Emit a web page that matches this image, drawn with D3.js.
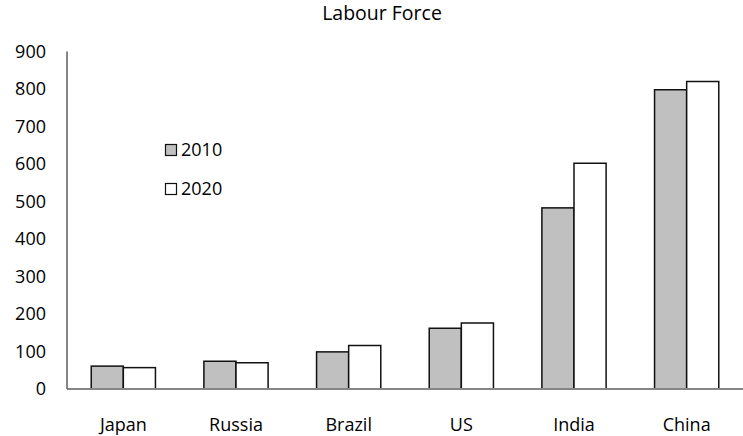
<!DOCTYPE html>
<html><head><meta charset="utf-8">
<script src="https://cdn.jsdelivr.net/npm/d3@7"></script>
<style>body{margin:0;background:#fff}svg{display:block}text{font-family:"Open Sans","Liberation Sans",sans-serif;fill:#000}</style>
</head><body>
<script>
const categories = ["Japan","Russia","Brazil","US","India","China"];
const seriesNames = ["2010","2020"];
const values2010 = [61,74,99,162,483,798];
const values2020 = [57,70,116,176,602,820];
const yTicks = [0,100,200,300,400,500,600,700,800,900];
const title = "Labour Force";

const FONT='"Open Sans","Liberation Sans",sans-serif';
const W=743,H=436;
const svg=d3.select("body").append("svg").attr("width",W).attr("height",H);
const x0=67,x1=743,yTop=51.5,yBase=389;
const x=d3.scaleBand().domain(categories).range([x0,x1]).paddingInner(0.43).paddingOuter(0.215);
const xs=d3.scaleBand().domain(seriesNames).range([0,x.bandwidth()]).padding(0);
const y=d3.scaleLinear().domain([0,900]).range([yBase,yTop]);
const fills={"2010":"#c0c0c0","2020":"#ffffff"};

svg.append("text").attr("x",382).attr("y",20).attr("text-anchor","middle").attr("font-size",19.5).text(title);

// y axis labels
const ya=svg.append("g").attr("transform",`translate(${x0},0)`)
 .call(d3.axisLeft(y).tickValues(yTicks).tickSize(0).tickPadding(21));
ya.select(".domain").remove();
ya.selectAll("text").attr("font-size",18).attr("font-family",FONT).attr("fill","#000");

const data=categories.map((c,i)=>({c,v:[{s:"2010",v:values2010[i]},{s:"2020",v:values2020[i]}]}));
const g=svg.append("g");
data.forEach(d=>{
  d.v.forEach(s=>{
    g.append("rect").attr("x",x(d.c)+xs(s.s)).attr("y",y(s.v)).attr("width",xs.bandwidth()).attr("height",yBase-y(s.v))
     .attr("fill",fills[s.s]).attr("stroke","#111").attr("stroke-width",1.5);
  });
});

// axes lines
svg.append("line").attr("x1",x0).attr("x2",x0).attr("y1",yTop).attr("y2",yBase).attr("stroke","#868686").attr("stroke-width",2);
const xa=svg.append("g").attr("transform",`translate(0,${yBase})`).call(d3.axisBottom(x).tickSize(0).tickPadding(29));
xa.select(".domain").attr("d",`M${x0},0H${x1}`).attr("stroke","#868686").attr("stroke-width",2);
xa.selectAll("text").attr("font-size",18).attr("font-family",FONT).attr("fill","#000");

// legend
const lg=svg.append("g");
seriesNames.forEach((s,i)=>{
  const cy=150+i*39;
  lg.append("rect").attr("x",165.5).attr("y",cy-5.5).attr("width",11).attr("height",11).attr("fill",fills[s]).attr("stroke","#111").attr("stroke-width",1.2);
  lg.append("text").attr("x",181).attr("y",cy).attr("dy","0.35em").attr("font-size",18).text(s);
});
</script>
</body></html>
